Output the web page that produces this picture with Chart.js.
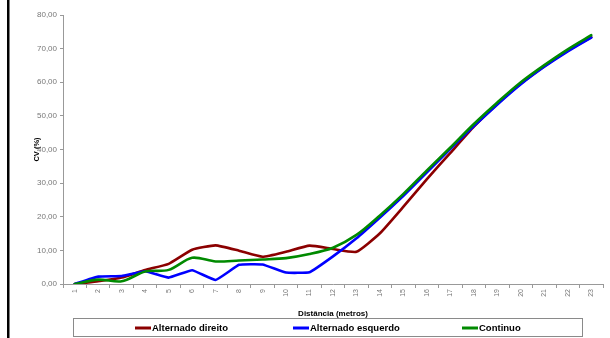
<!DOCTYPE html>
<html>
<head>
<meta charset="utf-8">
<script src="https://cdn.jsdelivr.net/npm/chart.js@4.4.0/dist/chart.umd.min.js"></script>
<style>
  html, body { margin: 0; padding: 0; background: #fff; }
  #wrap { width: 610px; height: 338px; position: relative; }
  canvas { display: block; }
</style>
</head>
<body>
<div id="wrap"><canvas id="cv" width="610" height="338"></canvas></div>
<script>
// distance categories (metros)
const distancias = ['1','2','3','4','5','6','7','8','9','10','11','12','13','14','15','16','17','18','19','20','21','22','23'];

// CV (%) per series
const alternadoDireito = [0, 0.8, 1.9, 4.2, 6.0, 10.2, 11.5, 9.9, 8.1, 9.6, 11.4, 10.4, 9.6, 15.1, 23.0, 31.2, 39.0, 46.8, 53.6, 59.6, 64.8, 69.4, 73.4];
const alternadoEsquerdo = [0, 2.2, 2.4, 3.8, 1.9, 4.1, 1.2, 5.7, 5.8, 3.4, 3.5, 8.2, 13.6, 19.8, 26.2, 33.2, 40.2, 47.0, 53.4, 59.4, 64.6, 69.2, 73.3];
const continuo = [0, 1.3, 0.8, 3.7, 4.2, 7.8, 6.7, 7.0, 7.3, 7.7, 8.9, 10.8, 14.6, 20.4, 26.8, 33.8, 40.6, 47.6, 54.0, 60.0, 65.1, 69.8, 74.0];

const yTicks = [0, 10, 20, 30, 40, 50, 60, 70, 80];

const FONT = 'Arial, "Liberation Sans", sans-serif';

// left frame line + legend box drawn by hand (Excel-style legend)
const excelLegend = {
  id: 'excelLegend',
  beforeDraw(chart) {
    const ctx = chart.ctx;
    ctx.save();
    ctx.fillStyle = '#000';
    ctx.fillRect(7, 0, 2.5, 338);
    ctx.restore();
  },
  afterDraw(chart) {
    const ctx = chart.ctx;
    ctx.save();
    ctx.strokeStyle = '#8a8a8a';
    ctx.lineWidth = 1;
    ctx.strokeRect(73.5, 318.5, 509, 18);
    const starts = [135, 293, 462];
    ctx.font = 'bold 9.5px ' + FONT;
    ctx.textBaseline = 'middle';
    chart.data.datasets.forEach((ds, i) => {
      const x = starts[i], y = 328;
      ctx.strokeStyle = ds.borderColor;
      ctx.lineWidth = 3;
      ctx.beginPath();
      ctx.moveTo(x, y);
      ctx.lineTo(x + 16, y);
      ctx.stroke();
      ctx.fillStyle = '#000';
      ctx.fillText(ds.label, x + 17, y + 0.5);
    });
    ctx.restore();
  }
};

new Chart(document.getElementById('cv'), {
  type: 'line',
  data: {
    labels: distancias,
    datasets: [
      { label: 'Alternado direito', data: alternadoDireito, borderColor: '#8b0000', order: 3, tension: 0.15 },
      { label: 'Alternado esquerdo', data: alternadoEsquerdo, borderColor: '#0000ff', order: 2, tension: 0.1 },
      { label: 'Continuo', data: continuo, borderColor: '#008a00', order: 1, tension: 0.3 }
    ]
  },
  options: {
    responsive: false,
    animation: false,
    devicePixelRatio: 1,
    layout: { padding: { top: 15, right: 7, left: 0, bottom: 0 } },
    elements: {
      point: { radius: 0 },
      line: { borderWidth: 2.6, fill: false, borderCapStyle: 'round' }
    },
    plugins: {
      legend: { display: false },
      tooltip: { enabled: false }
    },
    scales: {
      x: {
        offset: true,
        afterFit: (scale) => { scale.height = 54; },
        grid: { display: true, drawOnChartArea: false, drawTicks: true, tickLength: 4, color: '#999', offset: true },
        border: { display: true, color: '#999', width: 1 },
        ticks: { minRotation: 90, maxRotation: 90, autoSkip: false, padding: 1, color: '#777', font: { family: FONT, size: 7 } },
        title: { display: true, text: 'Distância (metros)', color: '#000', font: { family: FONT, size: 8, weight: 'bold' }, padding: { top: 0, bottom: 19 } }
      },
      y: {
        min: 0,
        max: 80,
        afterFit: (scale) => { scale.width = 63; },
        afterBuildTicks: (scale) => { scale.ticks = yTicks.map(v => ({ value: v })); },
        grid: { display: true, drawOnChartArea: false, drawTicks: true, tickLength: 3, color: '#999' },
        border: { display: true, color: '#999', width: 1 },
        ticks: {
          padding: 3,
          color: '#777',
          font: { family: FONT, size: 8 },
          callback: (v) => v.toFixed(2).replace('.', ',')
        },
        title: { display: true, text: 'CV (%)', color: '#000', font: { family: FONT, size: 7.5, weight: 'bold' }, padding: { top: 32, bottom: 0 } }
      }
    }
  },
  plugins: [excelLegend]
});
</script>
</body>
</html>
